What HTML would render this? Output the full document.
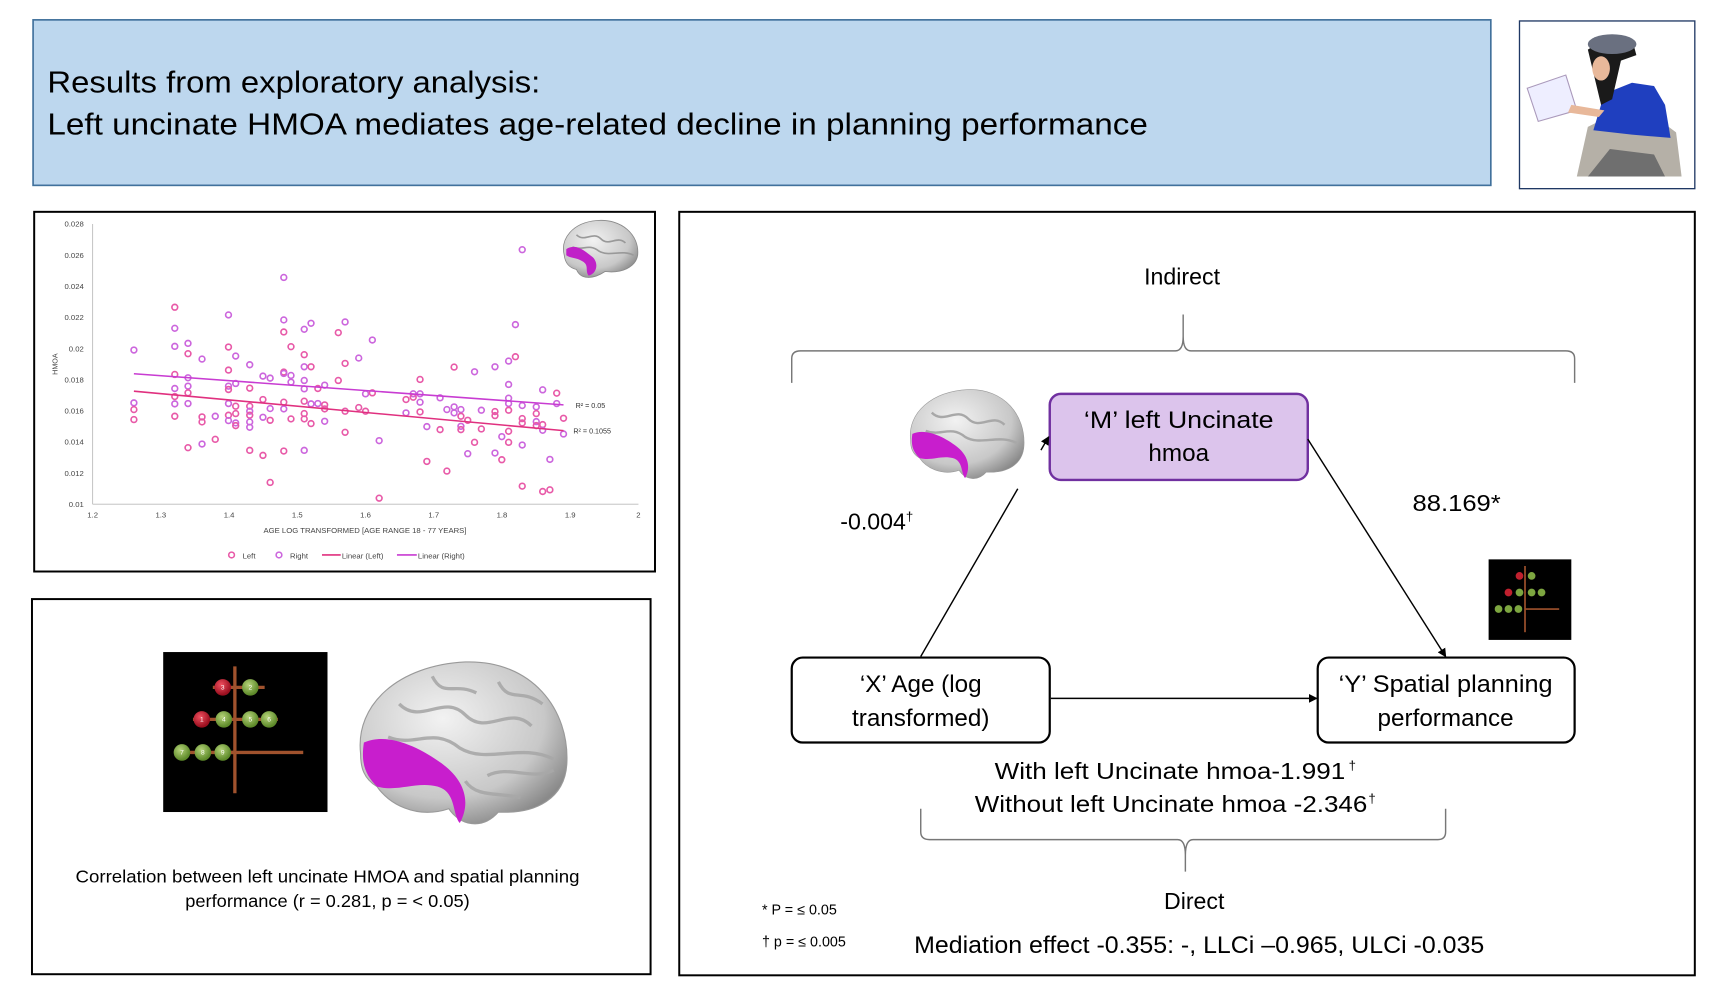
<!DOCTYPE html>
<html><head><meta charset="utf-8"><style>
html,body{margin:0;padding:0;background:#fff;}
svg{display:block;}
text{font-family:"Liberation Sans",sans-serif;}
</style></head><body>
<svg id="s" width="1729" height="1004" viewBox="0 0 1568 910" preserveAspectRatio="none" xmlns="http://www.w3.org/2000/svg">
<defs>
<radialGradient id="gb" cx="40%" cy="35%" r="70%"><stop offset="0" stop-color="#f2f2f2"/><stop offset="0.7" stop-color="#c8c8c8"/><stop offset="1" stop-color="#8a8a8a"/></radialGradient>
<radialGradient id="gg" cx="40%" cy="35%" r="60%"><stop offset="0" stop-color="#b6d47a"/><stop offset="1" stop-color="#5e8a2a"/></radialGradient>
<radialGradient id="gr" cx="40%" cy="35%" r="60%"><stop offset="0" stop-color="#f05060"/><stop offset="1" stop-color="#9a0f1f"/></radialGradient>
<marker id="ar" markerWidth="8" markerHeight="8" refX="7" refY="4" orient="auto" markerUnits="userSpaceOnUse"><path d="M0,0 L8,4 L0,8 z" fill="#000"/></marker>
</defs>
<!-- header -->
<rect x="30" y="18" width="1322" height="150" fill="#bdd7ee" stroke="#41719c" stroke-width="1.5"/>
<text x="43" y="84" font-size="28" fill="#000" textLength="447" lengthAdjust="spacingAndGlyphs">Results from exploratory analysis:</text>
<text x="43" y="122" font-size="28" fill="#000" textLength="998" lengthAdjust="spacingAndGlyphs">Left uncinate HMOA mediates age-related decline in planning performance</text>
<rect x="1378" y="19" width="159" height="152" fill="#fff" stroke="#1f3864" stroke-width="1.2"/>
<!-- woman sketch -->
<g>
<path d="M1430,160 L1440,115 L1470,100 L1500,105 L1520,120 L1525,160 Z" fill="#b5b0a7"/>
<path d="M1445,118 L1455,85 L1480,75 L1500,78 L1510,95 L1515,125 L1480,122 Z" fill="#1f3fbf"/>
<path d="M1440,45 L1460,32 L1480,35 L1484,50 L1470,55 L1462,90 L1452,95 L1446,70 Z" fill="#1a1a1a"/>
<ellipse cx="1462" cy="40" rx="22" ry="9" fill="#6a7080"/>
<ellipse cx="1452" cy="62" rx="8" ry="11" fill="#e8b89a"/>
<path d="M1385,80 L1420,68 L1430,100 L1395,110 Z" fill="#eef" stroke="#a9b" stroke-width="1"/>
<path d="M1425,95 L1455,100 L1450,106 L1422,102 Z" fill="#e8b89a"/>
<path d="M1440,160 L1460,135 L1500,140 L1510,160 Z" fill="#6f6f6f"/>
</g>
<!-- chart panel -->
<rect x="31" y="192" width="563" height="326" fill="#fff" stroke="#000" stroke-width="1.8"/>
<g id="chart"></g>
<g transform="translate(508,198) scale(0.37)">
<path d="M10,90 C0,50 30,10 90,5 C150,0 195,40 190,90 C185,120 150,135 110,130 C80,150 50,150 40,125 C20,120 12,108 10,90 Z" fill="url(#gb)" stroke="#888" stroke-width="2"/>
<g stroke="#999" stroke-width="4" fill="none"><path d="M40,40 C60,60 80,30 100,50 C120,70 140,40 160,60"/><path d="M30,70 C55,80 70,60 95,80 C120,95 150,75 180,90"/></g>
<path d="M15,75 C40,60 60,80 80,95 C95,110 90,135 70,140 C60,128 72,115 55,105 C40,95 25,98 15,90 Z" fill="#c020c8"/>
</g>
<!-- bottom-left panel -->
<rect x="29" y="543" width="561" height="340" fill="#fff" stroke="#000" stroke-width="1.8"/>
<rect x="148" y="591" width="149" height="145" fill="#000"/>
<g stroke="#a0522d" stroke-width="3">
<line x1="213" y1="604" x2="213" y2="719"/>
<line x1="205" y1="682" x2="275" y2="682"/>
<line x1="193" y1="623" x2="240" y2="623"/>
<line x1="175" y1="652" x2="252" y2="652"/>
<line x1="160" y1="682" x2="212" y2="682"/>
</g>
<g font-size="6" fill="#fff" text-anchor="middle">
<circle cx="202" cy="623" r="7.5" fill="url(#gr)"/><text x="202" y="625">3</text>
<circle cx="227" cy="623" r="7.5" fill="url(#gg)"/><text x="227" y="625">2</text>
<circle cx="183" cy="652" r="7.5" fill="url(#gr)"/><text x="183" y="654">1</text>
<circle cx="203" cy="652" r="7.5" fill="url(#gg)"/><text x="203" y="654">4</text>
<circle cx="227" cy="652" r="7.5" fill="url(#gg)"/><text x="227" y="654">5</text>
<circle cx="244" cy="652" r="7.5" fill="url(#gg)"/><text x="244" y="654">6</text>
<circle cx="165" cy="682" r="7.5" fill="url(#gg)"/><text x="165" y="684">7</text>
<circle cx="184" cy="682" r="7.5" fill="url(#gg)"/><text x="184" y="684">8</text>
<circle cx="202" cy="682" r="7.5" fill="url(#gg)"/><text x="202" y="684">9</text>
</g>
<g transform="translate(322,598)">
<path d="M5,85 C0,40 40,5 100,2 C160,0 195,45 192,95 C190,125 165,140 130,138 C115,155 95,150 85,135 C55,145 30,130 20,115 C8,108 5,98 5,85 Z" fill="url(#gb)" stroke="#999" stroke-width="1"/>
<g stroke="#a8a8a8" stroke-width="3" fill="none" opacity="0.9">
<path d="M40,40 C60,60 80,30 100,50 C120,70 140,40 160,60"/>
<path d="M30,70 C55,80 70,60 95,80 C120,95 150,75 180,90"/>
<path d="M70,15 C80,35 90,20 110,30"/>
<path d="M120,105 C140,95 160,110 180,100"/>
<path d="M130,20 C140,40 150,25 170,40"/>
<path d="M100,110 C110,125 130,120 150,125"/>
</g>
<path d="M8,75 C30,65 60,80 80,95 C100,110 105,130 95,148 C88,140 92,120 75,115 C55,110 40,120 20,115 C10,105 5,95 8,75 Z" fill="#c81ecd"/>
</g>
<text x="297" y="800" font-size="16" text-anchor="middle" textLength="457" lengthAdjust="spacingAndGlyphs">Correlation between left uncinate HMOA and spatial planning</text>
<text x="297" y="822" font-size="16" text-anchor="middle" textLength="258" lengthAdjust="spacingAndGlyphs">performance (r = 0.281, p = &lt; 0.05)</text>
<!-- right panel -->
<rect x="616" y="192" width="921" height="692" fill="#fff" stroke="#000" stroke-width="1.8"/>
<text x="1072" y="258" font-size="21" text-anchor="middle">Indirect</text>
<path d="M718,347 L718,325 Q718,318 726,318 L1066,318 Q1073,318 1073,305 L1073,285 L1073,305 Q1073,318 1080,318 L1420,318 Q1428,318 1428,325 L1428,347" fill="none" stroke="#777" stroke-width="1.3"/>
<g transform="translate(823,352) scale(0.55)">
<path d="M5,85 C0,40 40,5 100,2 C160,0 195,45 192,95 C190,125 165,140 130,138 C115,155 95,150 85,135 C55,145 30,130 20,115 C8,108 5,98 5,85 Z" fill="url(#gb)" stroke="#999" stroke-width="1"/>
<g stroke="#a8a8a8" stroke-width="4" fill="none"><path d="M40,40 C60,60 80,30 100,50 C120,70 140,40 160,60"/><path d="M30,70 C55,80 70,60 95,80 C120,95 150,75 180,90"/></g>
<path d="M8,75 C30,65 60,80 80,95 C100,110 105,130 95,148 C88,140 92,120 75,115 C55,110 40,120 20,115 C10,105 5,95 8,75 Z" fill="#c81ecd"/>
</g>
<rect x="952" y="357" width="234" height="78" rx="10" fill="#dcc4ec" stroke="#7030a0" stroke-width="2.2"/>
<text x="1069" y="388" font-size="22" text-anchor="middle" textLength="172" lengthAdjust="spacingAndGlyphs">‘M’ left Uncinate</text>
<text x="1069" y="418" font-size="22" text-anchor="middle">hmoa</text>
<rect x="718" y="596" width="234" height="77" rx="10" fill="#fff" stroke="#000" stroke-width="2"/>
<text x="835" y="627" font-size="22" text-anchor="middle">‘X’ Age (log</text>
<text x="835" y="658" font-size="22" text-anchor="middle">transformed)</text>
<rect x="1195" y="596" width="233" height="77" rx="10" fill="#fff" stroke="#000" stroke-width="2"/>
<text x="1311" y="627" font-size="22" text-anchor="middle" textLength="194" lengthAdjust="spacingAndGlyphs">‘Y’ Spatial planning</text>
<text x="1311" y="658" font-size="22" text-anchor="middle">performance</text>
<line x1="835" y1="595" x2="923" y2="443" stroke="#000" stroke-width="1.3"/>
<line x1="944" y1="408" x2="951" y2="396" stroke="#000" stroke-width="1.3" marker-end="url(#ar)"/>
<line x1="1186" y1="398" x2="1311" y2="595" stroke="#000" stroke-width="1.3" marker-end="url(#ar)"/>
<line x1="953" y1="633" x2="1194" y2="633" stroke="#000" stroke-width="1.3" marker-end="url(#ar)"/>
<text x="762" y="480" font-size="21">-0.004<tspan font-size="12" dy="-8">†</tspan></text>
<text x="1281" y="463" font-size="21" textLength="80" lengthAdjust="spacingAndGlyphs">88.169*</text>
<rect x="1350" y="507" width="75" height="73" fill="#000"/>
<g stroke="#a0522d" stroke-width="1.5"><line x1="1383" y1="513" x2="1383" y2="573"/><line x1="1383" y1="552" x2="1414" y2="552"/></g>
<g><circle cx="1378" cy="522" r="3.5" fill="#c0202e"/><circle cx="1389" cy="522" r="3.5" fill="#7da640"/>
<circle cx="1368" cy="537" r="3.5" fill="#c0202e"/><circle cx="1378" cy="537" r="3.5" fill="#7da640"/><circle cx="1389" cy="537" r="3.5" fill="#7da640"/><circle cx="1398" cy="537" r="3.5" fill="#7da640"/>
<circle cx="1359" cy="552" r="3.5" fill="#7da640"/><circle cx="1368" cy="552" r="3.5" fill="#7da640"/><circle cx="1377" cy="552" r="3.5" fill="#7da640"/></g>
<text x="902" y="706" font-size="21" textLength="318" lengthAdjust="spacingAndGlyphs">With left Uncinate hmoa-1.991 </text><text x="1223" y="698" font-size="12">†</text>
<text x="884" y="736" font-size="21" textLength="356" lengthAdjust="spacingAndGlyphs">Without left Uncinate hmoa -2.346</text><text x="1241" y="728" font-size="12">†</text>
<path d="M835,733 L835,754 Q835,761 843,761 L1068,761 Q1075,761 1075,775 L1075,790 L1075,775 Q1075,761 1082,761 L1304,761 Q1311,761 1311,754 L1311,733" fill="none" stroke="#777" stroke-width="1.3"/>
<text x="1083" y="824" font-size="21" text-anchor="middle">Direct</text>
<text x="691" y="829" font-size="13">* P = ≤ 0.05</text>
<text x="691" y="858" font-size="13">† p = ≤ 0.005</text>
<text x="829" y="864" font-size="22" textLength="517" lengthAdjust="spacingAndGlyphs">Mediation effect -0.355: -, LLCi –0.965, ULCi -0.035</text>
</svg>
<script>
(function(){
var NS="http://www.w3.org/2000/svg",g=document.getElementById("chart");
function el(t,a,txt){var e=document.createElementNS(NS,t);for(var k in a)e.setAttribute(k,a[k]);if(txt!=null)e.textContent=txt;g.appendChild(e);return e;}
var X0=84,X1=579,Y0=457,Y1=203;
function px(v){return X0+(v-1.2)/0.8*(X1-X0);}
function py(v){return Y0-(v-0.01)/0.018*(Y0-Y1);}
el("line",{x1:X0,y1:Y1,x2:X0,y2:Y0,stroke:"#bbb","stroke-width":0.8});
el("line",{x1:X0,y1:Y0,x2:X1,y2:Y0,stroke:"#bbb","stroke-width":0.8});
var yt=["0.01","0.012","0.014","0.016","0.018","0.02","0.022","0.024","0.026","0.028"];
yt.forEach(function(t){el("text",{x:76,y:py(+t)+2.5,"font-size":7,"text-anchor":"end",fill:"#444"},t);});
["1.2","1.3","1.4","1.5","1.6","1.7","1.8","1.9","2"].forEach(function(t){el("text",{x:px(+t),y:469,"font-size":7,"text-anchor":"middle",fill:"#444"},t);});
el("text",{x:331,y:483,"font-size":7,"text-anchor":"middle",fill:"#444"},"AGE LOG TRANSFORMED [AGE RANGE 18 - 77 YEARS]");
el("text",{x:52,y:330,"font-size":6.5,"text-anchor":"middle",fill:"#444",transform:"rotate(-90 52 330)"},"HMOA");
function zx(p){return X0+(p-155)/1362*(X1-X0);}
function zy(p){return Y0-(883-p)/838*(Y0-Y1);}
var pts="258,422R 258,580R 258,600L 258,630L 360,294L 360,357R 360,411R 360,495L 360,537R 360,561L 360,583R 360,620L 393,402R 393,433L 393,505R 393,530R 393,550L 393,582R 393,714L 428,449R 428,622L 428,637L 428,703R 461,620R 461,689L 494,317R 494,413L 494,482L 494,530R 494,540L 494,582R 494,617L 494,633R 512,440R 512,522R 512,590L 512,612L 512,640R 512,648L 547,466R 547,536L 547,590L 547,605R 547,617L 547,637R 547,653R 547,722L 580,500R 580,570L 580,623R 580,737L 598,506R 598,597R 598,632L 598,818L 632,205R 632,332R 632,368L 632,488L 632,492R 632,578L 632,598R 632,724L 650,412L 650,498R 650,518R 650,628L 683,360R 683,436L 683,472R 683,513R 683,538R 683,575L 683,612L 683,628L 683,722R 700,342R 700,472L 700,583R 700,642L 717,537L 717,582R 734,527R 734,586L 734,598L 734,635R 768,370L 768,513L 785,338R 785,462L 785,605L 785,668L 819,446R 819,594L 836,553R 836,605L 853,392R 853,550L 870,693R 870,865L 937,570L 937,610R 955,553R 955,563L 972,510L 972,553R 972,578R 972,607L 989,651R 989,755L 1022,565R 1022,660L 1039,784L 1039,600R 1057,473L 1057,592R 1057,610R 1074,600R 1074,620L 1074,650R 1074,660L 1091,632L 1091,732R 1108,487R 1108,698L 1125,602R 1125,658L 1159,472R 1159,606L 1159,618L 1159,730R 1176,681R 1176,750L 1193,455R 1193,525R 1193,566R 1193,582R 1193,602L 1193,665L 1193,698L 1210,346R 1210,442L 1227,122R 1227,588R 1227,627L 1227,640L 1227,706R 1227,829L 1262,592R 1262,612L 1262,636R 1262,648L 1278,541R 1278,645L 1278,662R 1278,845L 1296,749R 1296,840L 1313,551L 1313,582R 1330,626L 1330,673R".split(" ");
pts.forEach(function(s){var c=s.slice(-1),p=s.slice(0,-1).split(",");
el("circle",{cx:zx(+p[0]),cy:zy(+p[1]),r:2.6,fill:"none",stroke:c=="L"?"#e85aa8":"#cc66dd","stroke-width":1.5});});
el("line",{x1:zx(258),y1:zy(493),x2:zx(1330),y2:zy(586),stroke:"#c83cd2","stroke-width":1.4});
el("line",{x1:zx(258),y1:zy(545),x2:zx(1330),y2:zy(663),stroke:"#e0307f","stroke-width":1.4});
el("text",{x:522,y:370,"font-size":6.5,fill:"#333"},"R² = 0.05");
el("text",{x:520,y:393,"font-size":6.5,fill:"#333"},"R² = 0.1055");
el("circle",{cx:210,cy:503,r:2.6,fill:"none",stroke:"#e85aa8","stroke-width":1.4});
el("text",{x:220,y:506,"font-size":7,fill:"#444"},"Left");
el("circle",{cx:253,cy:503,r:2.6,fill:"none",stroke:"#cc66dd","stroke-width":1.4});
el("text",{x:263,y:506,"font-size":7,fill:"#444"},"Right");
el("line",{x1:292,y1:503,x2:309,y2:503,stroke:"#e0307f","stroke-width":1.5});
el("text",{x:310,y:506,"font-size":7,fill:"#444"},"Linear (Left)");
el("line",{x1:360,y1:503,x2:378,y2:503,stroke:"#c83cd2","stroke-width":1.5});
el("text",{x:379,y:506,"font-size":7,fill:"#444"},"Linear (Right)");
})();
</script>
</body></html>
